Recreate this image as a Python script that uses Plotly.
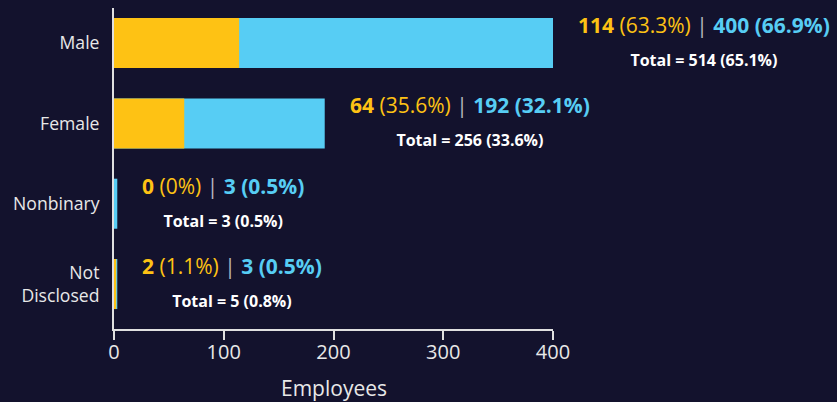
import plotly.graph_objects as go

categories = ["Male", "Female", "Nonbinary", "Not Disclosed"]
tick_labels = ["Male", "Female", "Nonbinary", "Not<br>Disclosed"]
group_a = [114, 64, 0, 2]
group_a_pct = ["63.3%", "35.6%", "0%", "1.1%"]
group_b = [400, 192, 3, 3]
group_b_pct = ["66.9%", "32.1%", "0.5%", "0.5%"]
totals = [514, 256, 3, 5]
total_pct = ["65.1%", "33.6%", "0.5%", "0.8%"]
x_ticks = [0, 100, 200, 300, 400]
x_title = "Employees"

BG = "#13122d"
YEL = "#fec214"
BLU = "#57cdf4"
TXT = "#e8e8e8"

fig = go.Figure()
fig.add_trace(go.Bar(y=categories, x=group_b, orientation="h",
                     marker=dict(color=BLU, line=dict(width=0)), hoverinfo="skip"))
fig.add_trace(go.Bar(y=categories, x=group_a, orientation="h",
                     marker=dict(color=YEL, line=dict(width=0)), hoverinfo="skip"))

for i, c in enumerate(categories):
    line1 = (f"<span style='font-size:21px'><b>{group_a[i]}</b> ({group_a_pct[i]}) "
             f"<span style='color:#b8b8c0'>|</span> "
             f"<span style='color:{BLU}'><b>{group_b[i]} ({group_b_pct[i]})</b></span></span>")
    line2 = (f"<span style='font-size:16px;color:#ffffff'><b>Total = {totals[i]} "
             f"({total_pct[i]})</b></span>")
    fig.add_annotation(x=max(group_a[i], group_b[i]), y=c, xref="x", yref="y",
                       text=line1 + "<br>" + line2, showarrow=False,
                       xanchor="left", yanchor="middle", align="center",
                       xshift=23, yshift=2,
                       font=dict(family="Open Sans", size=25, color=YEL))

fig.add_annotation(x=0.5, y=0, xref="paper", yref="paper", text=x_title,
                   showarrow=False, xanchor="center", yanchor="middle", yshift=-59,
                   font=dict(family="Open Sans", size=21, color=TXT))

fig.update_layout(
    width=837, height=402,
    margin=dict(l=114, r=284, t=8, b=73, autoexpand=False),
    paper_bgcolor=BG, plot_bgcolor=BG,
    barmode="overlay", bargap=0.377,
    showlegend=False,
    font=dict(family="Open Sans", color=TXT),
)
fig.update_xaxes(range=[0, 400], tickvals=x_ticks, ticks="outside", ticklen=9,
                 tickwidth=2, tickcolor="#e0e0e0", showline=True, linewidth=2,
                 linecolor="#e0e0e0", showgrid=False, zeroline=False,
                 ticklabelstandoff=-5, automargin=False,
                 tickfont=dict(size=20, color=TXT))
fig.update_yaxes(categoryorder="array", categoryarray=categories,
                 tickvals=categories, ticktext=tick_labels,
                 range=[3.56, -0.437], showline=True, linewidth=2, linecolor="#e0e0e0",
                 ticks="outside", ticklen=9, tickcolor="rgba(0,0,0,0)",
                 showgrid=False, zeroline=False, automargin=False,
                 tickfont=dict(size=17.6, color=TXT))

fig.write_html("out.html", config={"displayModeBar": False},
               post_script="document.body.style.margin='0';document.body.style.background='" + BG + "';")
